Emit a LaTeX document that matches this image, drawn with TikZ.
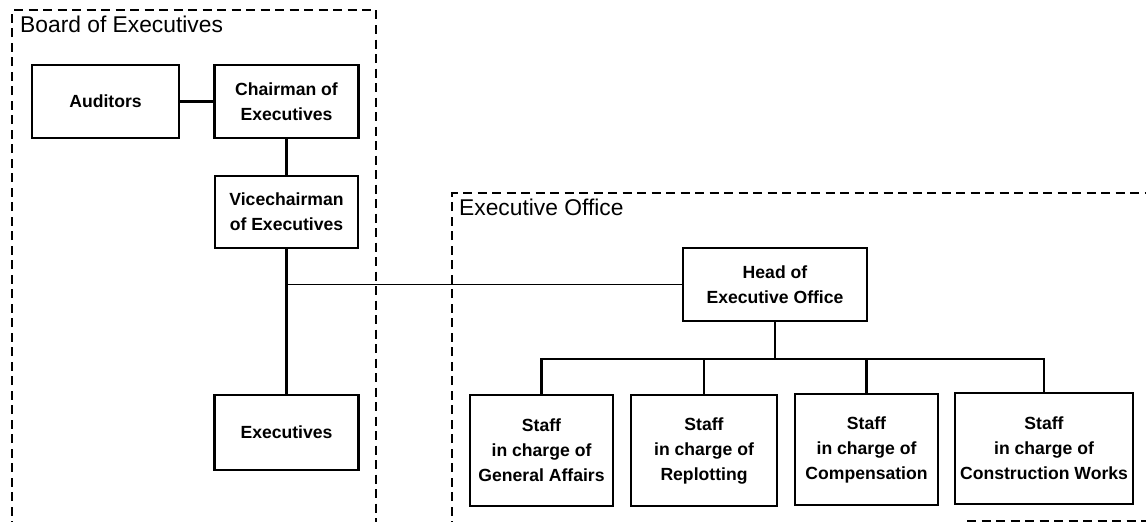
\documentclass[tikz,border=0pt]{standalone}
\usepackage{fontspec}
\setmainfont{Liberation Sans}
\begin{document}
\begin{tikzpicture}[x=1pt,y=-1pt,
  unit/.style={draw, line width=2.3pt, inner sep=0pt, align=center,
    font=\bfseries\fontsize{17.6}{25}\selectfont},
  group/.style={line width=2.8pt, dash pattern=on 9pt off 5.5pt},
  grouptitle/.style={anchor=base west, inner sep=0pt,
    font=\fontsize{22.8}{26}\selectfont},
  trunk/.style={line width=3pt},
  link/.style={line width=2.2pt},
  thinlink/.style={line width=1.5pt}]
\useasboundingbox (0,0) rectangle (1146,522);

% group frames
\draw[group] (12,530) -- (12,10) -- (376,10) -- (376,530);
\draw[group] (452,530) -- (452,193) -- (1155,193);
\draw[group] (967,521) -- (1155,521);
\node[grouptitle] (boardtitle) at (20,32) {Board of Executives};
\node[grouptitle] (officetitle) at (459,215) {Executive Office};

% board of executives
\node[unit, minimum width=147pt, minimum height=73pt] (aud) at (105.5,101.5) {Auditors};
\node[unit, minimum width=144pt, minimum height=73pt] (chair) at (286.5,101.5) {Chairman of\\Executives};
\node[unit, minimum width=143pt, minimum height=72pt] (vice) at (286.5,212) {Vicechairman\\of Executives};
\node[unit, minimum width=144pt, minimum height=75pt] (exe) at (286.5,432.5) {Executives};

% executive office
\node[unit, minimum width=184pt, minimum height=73pt] (head) at (775,284.5) {Head of\\Executive Office};
\node[unit, minimum width=143pt, minimum height=111pt] (s1) at (541.5,450.5) {Staff\\in charge of\\General Affairs};
\node[unit, minimum width=146pt, minimum height=111pt] (s2) at (704,450.5) {Staff\\in charge of\\Replotting};
\node[unit, minimum width=143pt, minimum height=111pt] (s3) at (866.5,449.5) {Staff\\in charge of\\Compensation};
\node[unit, minimum width=178pt, minimum height=111pt] (s4) at (1044,448.5) {Staff\\in charge of\\Construction Works};

% connectors
\draw[link] (aud.east) -- (chair.west);
\draw[trunk] (chair.south) -- (vice.north);
\draw[trunk] (vice.south) -- (exe.north);
\coordinate (tap) at (vice.south |- head.west);
\draw[thinlink] (tap) -- (head.west);
\coordinate (bus) at ([yshift=-37pt]head.south);
\draw[link] (head.south) -- (bus);
\draw[link] (bus) -| (s1.north);
\draw[link] (bus) -| (s2.north);
\draw[link] (bus) -| (s3.north);
\draw[link] (bus) -| (s4.north);
\end{tikzpicture}
\end{document}
